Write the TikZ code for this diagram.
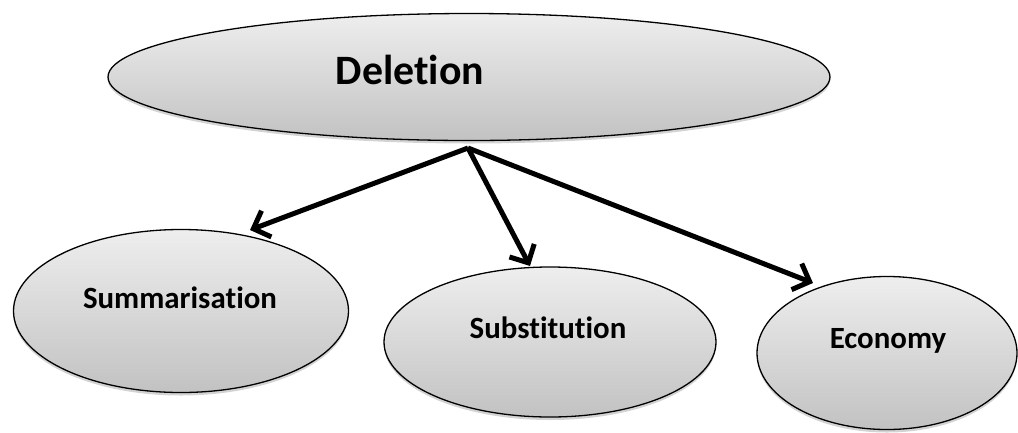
\documentclass[tikz,border=0pt]{standalone}
\usepackage{fontspec}
\setmainfont{Carlito}[RawFeature={-liga;-clig;-dlig;-calt}]
\usetikzlibrary{shapes.geometric, arrows.meta, shadows}

\definecolor{ovtop}{HTML}{EEEEEE}
\definecolor{ovbot}{HTML}{C2C2C2}

\begin{document}
\begin{tikzpicture}[x=1bp, y=-1bp,
  oval/.style={draw, ellipse, line width=1.3bp, inner sep=0pt,
    top color=ovtop, bottom color=ovbot,
    drop shadow={shadow xshift=0bp, shadow yshift=-3bp, opacity=0.35}},
  lbl/.style={font=\bfseries\fontsize{31}{36}\selectfont},
  link/.style={line width=5bp,
    -{Straight Barb[length=14bp, width=28bp, line width=5bp]}}]
\useasboundingbox (0,0) rectangle (1018,432);
% top node and the three kinds of deletion
\node[oval, minimum width=722bp, minimum height=127bp] (t1) at (469,77) {};
\node[oval, minimum width=335bp, minimum height=163bp] (c1) at (181,311) {};
\node[oval, minimum width=332bp, minimum height=150bp] (c2) at (550,342) {};
\node[oval, minimum width=260bp, minimum height=153bp] (c3) at (887,353) {};
\node[lbl, font=\bfseries\fontsize{42}{48}\selectfont] (l0) at (410,70) {Deletion};
\node[lbl] (l1) at (180,298) {Summarisation};
\node[lbl] (l2) at (548,328) {Substitution};
\node[lbl] (l3) at (888,341) {Economy};
\coordinate (o) at (468,148);
\coordinate (a1) at (250,230);
\coordinate (a2) at (530,266);
\coordinate (a3) at (813,283);
\draw[link] (o) -- (a1);
\draw[link] (o) -- (a2);
\draw[link] (o) -- (a3);
\end{tikzpicture}
\end{document}
